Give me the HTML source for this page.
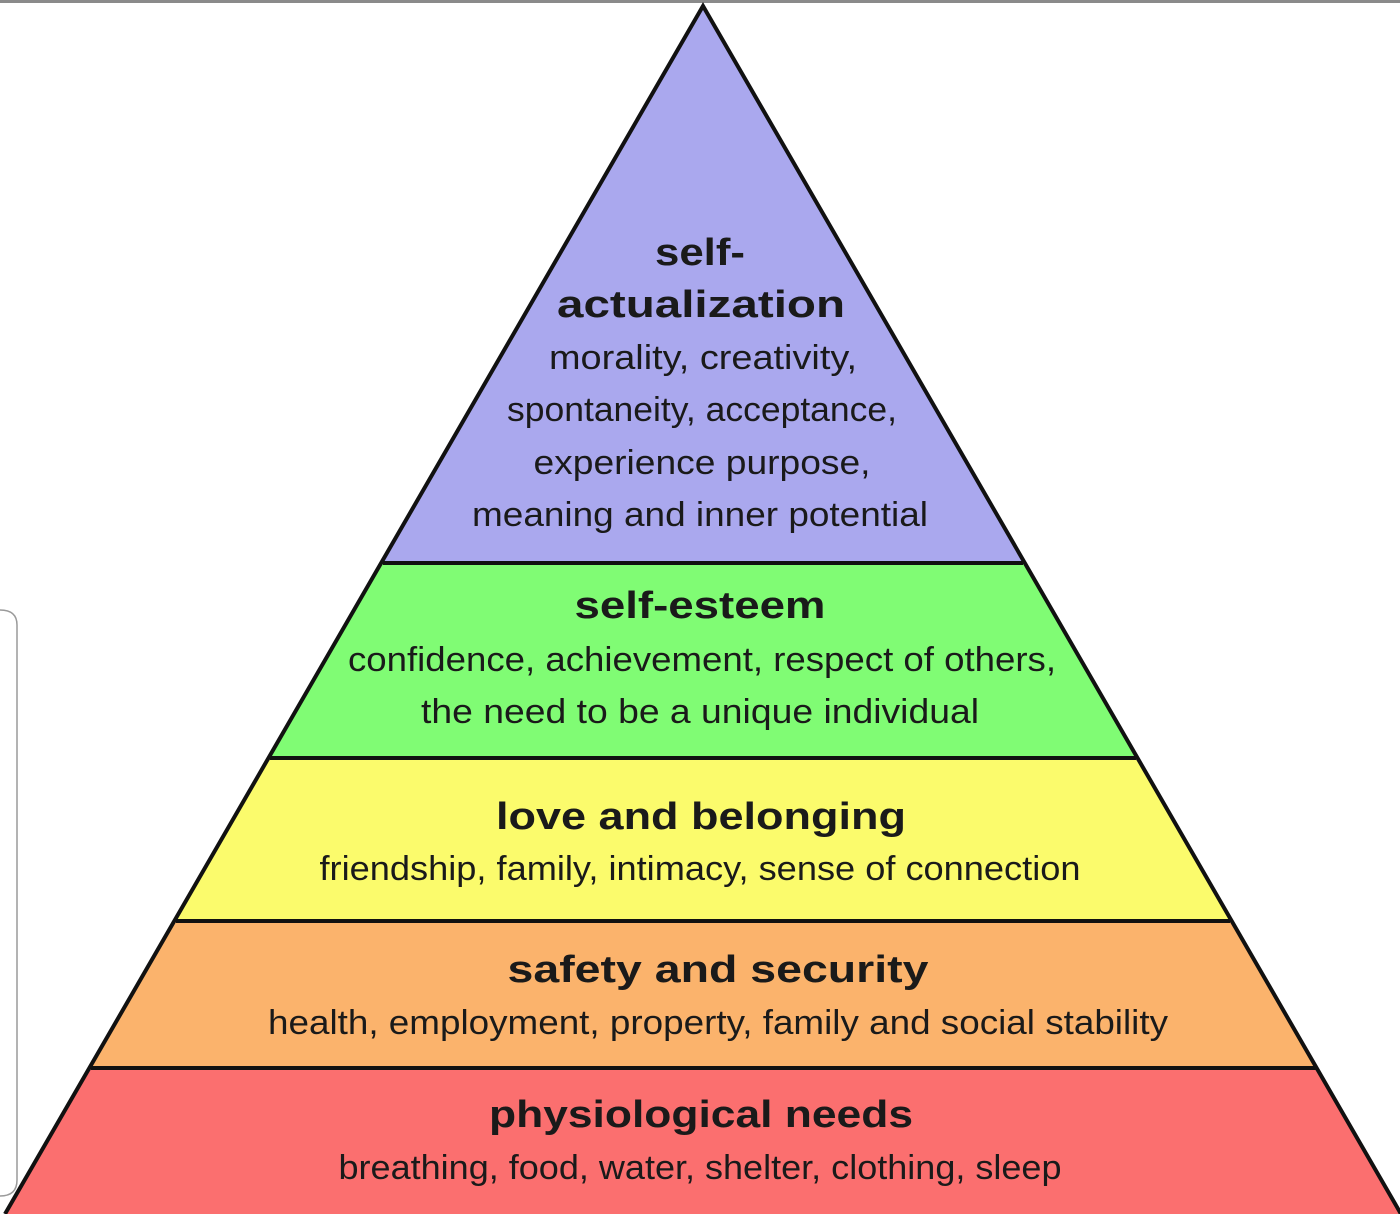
<!DOCTYPE html>
<html><head><meta charset="utf-8"><style>
html,body{margin:0;padding:0;background:#fff;width:1400px;height:1214px;overflow:hidden}
svg{display:block}
text{font-family:"Liberation Sans",sans-serif;fill:#1a1a1a;text-anchor:middle}
.h{font-weight:bold;font-size:38px}
.b{font-size:34px}
</style></head><body>
<svg width="1400" height="1214" viewBox="0 0 1400 1214">
<rect x="0" y="0" width="1400" height="3" fill="#8a8a8a"/>
<path d="M0 610 Q17 610 17 625 L17 1180 Q17 1196 0 1196" fill="none" stroke="#9a9a9a" stroke-width="1.5"/>
<polygon points="703,6 1023,563 383,563" fill="#aaa8ee"/>
<polygon points="383,563 1023,563 1136,758 270,758" fill="#80fc74"/>
<polygon points="270,758 1136,758 1230,921 176,921" fill="#fbfb6c"/>
<polygon points="176,921 1230,921 1316,1068 91,1068" fill="#fbb36c"/>
<polygon points="91,1068 1316,1068 1401,1214 5,1214" fill="#fb6f6f"/>
<g stroke="#111" stroke-width="4" fill="none">
<polyline points="5,1214 703,6 1401,1214"/>
<line x1="383" y1="563" x2="1023" y2="563"/>
<line x1="270" y1="758" x2="1136" y2="758"/>
<line x1="176" y1="921" x2="1230" y2="921"/>
<line x1="91" y1="1068" x2="1316" y2="1068"/>
</g>
<text class="h" x="700" y="265" textLength="90" lengthAdjust="spacingAndGlyphs">self-</text>
<text class="h" x="701" y="317" textLength="288" lengthAdjust="spacingAndGlyphs">actualization</text>
<text class="b" x="703" y="369" textLength="308" lengthAdjust="spacingAndGlyphs">morality, creativity,</text>
<text class="b" x="702" y="421" textLength="390" lengthAdjust="spacingAndGlyphs">spontaneity, acceptance,</text>
<text class="b" x="702" y="474" textLength="337" lengthAdjust="spacingAndGlyphs">experience purpose,</text>
<text class="b" x="700" y="526" textLength="456" lengthAdjust="spacingAndGlyphs">meaning and inner potential</text>
<text class="h" x="700" y="618" textLength="251" lengthAdjust="spacingAndGlyphs">self-esteem</text>
<text class="b" x="702" y="671" textLength="708" lengthAdjust="spacingAndGlyphs">confidence, achievement, respect of others,</text>
<text class="b" x="700" y="723" textLength="558" lengthAdjust="spacingAndGlyphs">the need to be a unique individual</text>
<text class="h" x="701" y="829" textLength="410" lengthAdjust="spacingAndGlyphs">love and belonging</text>
<text class="b" x="700" y="880" textLength="761" lengthAdjust="spacingAndGlyphs">friendship, family, intimacy, sense of connection</text>
<text class="h" x="718" y="982" textLength="421" lengthAdjust="spacingAndGlyphs">safety and security</text>
<text class="b" x="718" y="1034" textLength="900" lengthAdjust="spacingAndGlyphs">health, employment, property, family and social stability</text>
<text class="h" x="701" y="1127" textLength="424" lengthAdjust="spacingAndGlyphs">physiological needs</text>
<text class="b" x="700" y="1179" textLength="723" lengthAdjust="spacingAndGlyphs">breathing, food, water, shelter, clothing, sleep</text>
</svg>
</body></html>
